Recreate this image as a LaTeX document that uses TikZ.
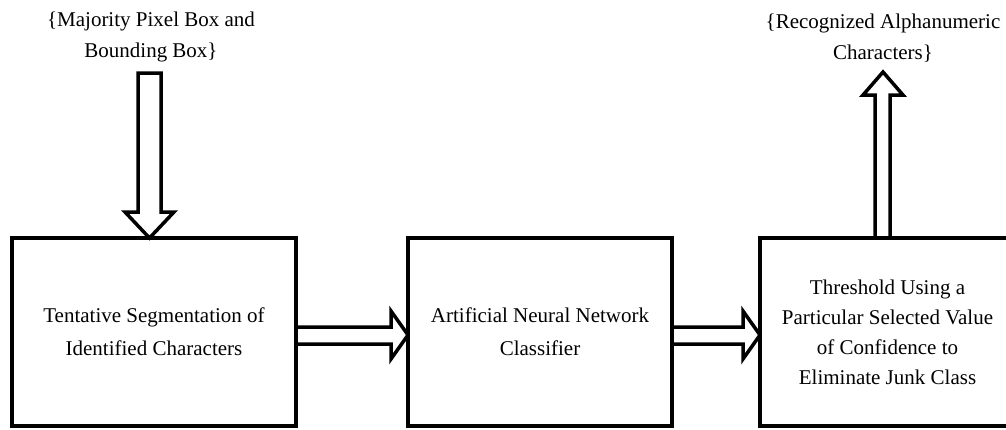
\documentclass[tikz,border=0pt]{standalone}
\usepackage{fontspec}
\setmainfont{Liberation Serif}
\usetikzlibrary{calc}
\begin{document}
\begin{tikzpicture}[x=1pt,y=-1pt,
  box/.style={draw, line width=3.5pt, minimum height=188pt, anchor=north west, outer sep=0pt, inner sep=0pt, align=center, font=\fontsize{21}{33}\selectfont},
  fat/.style={draw, line width=3.5pt, line join=miter},
  lbl/.style={align=center, inner sep=0pt, font=\fontsize{21}{31}\selectfont}]
\useasboundingbox (0,0) rectangle (1006,429);
% boxes
\node[box, minimum width=284pt] (b1) at (12,238) {Tentative Segmentation of\\Identified Characters};
\node[box, minimum width=264pt] (b2) at (408,238) {Artificial Neural Network\\Classifier};
\node[box, minimum width=255pt, font=\fontsize{21}{30}\selectfont] (b3) at (760,238) {Threshold Using a\\Particular Selected Value\\of Confidence to\\Eliminate Junk Class};
% labels
\node[lbl] (in) at (151,37) {\{Majority Pixel Box and\\Bounding Box\}};
\node[lbl] (out) at (883,38) {\{Recognized Alphanumeric\\Characters\}};
% input arrow (down)
\coordinate (dtip) at ($(b1.north west)+(137.5,0)$);
\draw[fat] ($(dtip)+(-11.5,-165)$) -- ++(23,0) -- ++(0,139) -- ++(13,0) -- (dtip) -- ++(-24.5,-26) -- ++(13,0) -- cycle;
% arrow b1 -> b2
\draw[fat] ($(b1.north east)+(0,89)$) -- ($(b2.north west)+(-17,89)$) -- ++(0,-16) -- ($(b2.north west)+(0,97)$) -- ($(b2.north west)+(-17,121)$) -- ++(0,-15) -- ($(b1.north east)+(0,106)$);
% arrow b2 -> b3
\draw[fat] ($(b2.north east)+(0,89)$) -- ($(b3.north west)+(-17,89)$) -- ++(0,-16) -- ($(b3.north west)+(0,97)$) -- ($(b3.north west)+(-17,121)$) -- ++(0,-15) -- ($(b2.north east)+(0,106)$);
% output arrow (up)
\coordinate (ubase) at ($(b3.north west)+(115,0)$);
\draw[fat] (ubase) -- ++(0,-143) -- ++(-12,0) -- ++(20,-23) -- ++(20,23) -- ++(-13,0) -- ++(0,143);
\end{tikzpicture}
\end{document}
